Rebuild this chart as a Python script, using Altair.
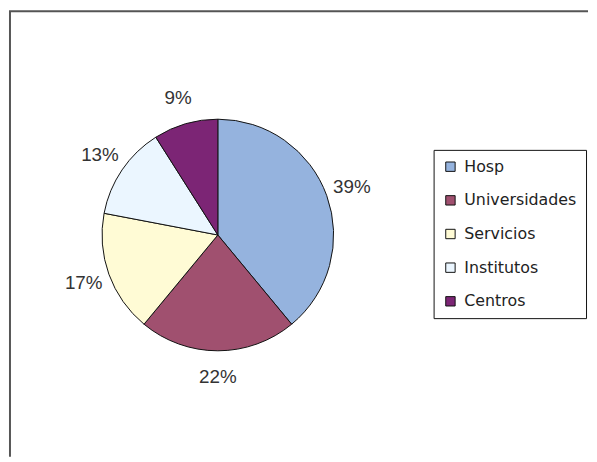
import altair as alt
import pandas as pd

categories = ["Hosp", "Universidades", "Servicios", "Institutos", "Centros"]
values = [39, 22, 17, 13, 9]
labels = ["39%", "22%", "17%", "13%", "9%"]
colors = ["#95B3DE", "#A0506F", "#FFFBD5", "#EBF6FF", "#7C2575"]

df = pd.DataFrame({"cat": categories, "val": values, "lab": labels,
                   "ord": list(range(len(categories)))})

cx, cy = 211, 226
W, H = 585, 450

base = alt.Chart(df).encode(
    theta=alt.Theta("val:Q", stack=True),
    order=alt.Order("ord:Q"),
)

pie = base.mark_arc(stroke="#111111", strokeWidth=1).encode(
    x=alt.value(cx), y=alt.value(cy),
    radius=alt.value(117),
    color=alt.Color("cat:N", scale=alt.Scale(domain=categories, range=colors),
                    legend=alt.Legend(title=None, orient="none", legendX=429, legendY=140,
                                      symbolType="square", symbolSize=90,
                                      symbolStrokeColor="#111111", symbolStrokeWidth=1,
                                      labelFontSize=16, labelFont="DejaVu Sans",
                                      labelColor="#222222", rowPadding=18,
                                      padding=9, strokeColor="#111111", fillColor="white",
                                      labelOffset=6)),
)

text = base.mark_text(fontSize=19, font="Liberation Sans", color="#333333").encode(
    x=alt.value(cx), y=alt.value(cy),
    radius=alt.value(144),
    text="lab:N",
)

frame = pd.DataFrame({"k": [0]})
top_line = alt.Chart(frame).mark_rule(color="#555555", strokeWidth=2).encode(
    x=alt.value(0), x2=alt.value(W), y=alt.value(0))
left_line = alt.Chart(frame).mark_rule(color="#555555", strokeWidth=2).encode(
    x=alt.value(1), y=alt.value(0), y2=alt.value(H))

chart = (top_line + left_line + pie + text).properties(
    width=W, height=H, padding=0
).configure_view(strokeWidth=0)

chart.save("out.html", embed_options={"renderer": "svg", "actions": False})
